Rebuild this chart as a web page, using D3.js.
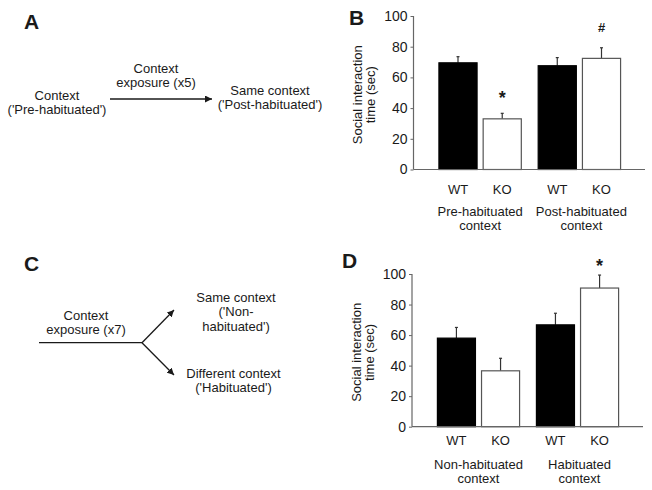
<!DOCTYPE html>
<html>
<head>
<meta charset="utf-8">
<script src="https://cdn.jsdelivr.net/npm/d3@7"></script>
<style>
  html, body { margin: 0; padding: 0; background: #fff; }
  svg { display: block; font-family: "Liberation Sans", Arial, sans-serif; }
</style>
</head>
<body>
<svg id="chart" width="652" height="490"></svg>
<script>
// ---- data ----
const genotypes = ["WT", "KO"];
const yTicks = [0, 20, 40, 60, 80, 100];

const groupsB = [["Pre-habituated", "context"], ["Post-habituated", "context"]];
const meansB = [69.5, 33.0, 67.6, 72.4];       // WT, KO, WT, KO
const semB   = [4.0, 3.6, 5.3, 6.9];
const marksB = ["", "*", "", "#"];

const groupsD = [["Non-habituated", "context"], ["Habituated", "context"]];
const meansD = [58.0, 36.6, 66.7, 90.8];
const semD   = [7.0, 8.2, 7.6, 8.5];
const marksD = ["", "", "", "*"];

const yTitle = ["Social interaction", "time (sec)"];

// ---- drawing ----
const svg = d3.select("#chart");
const ink = "#1a1a1a";
const axisGrey = "#666";

svg.append("defs").append("marker")
  .attr("id", "arrow").attr("viewBox", "0 0 10 10")
  .attr("refX", 10).attr("refY", 5)
  .attr("markerWidth", 7).attr("markerHeight", 7)
  .attr("markerUnits", "userSpaceOnUse")
  .attr("orient", "auto")
  .append("path").attr("d", "M0,0 L10,5 L0,10 Z").attr("fill", ink);

function panelLetter(x, y, t) {
  svg.append("text").attr("x", x).attr("y", y).text(t)
    .attr("font-size", 21).attr("font-weight", "bold").attr("fill", ink);
}
function lines(cx, baselines, texts) {
  texts.forEach((t, i) => {
    svg.append("text").attr("x", cx).attr("y", baselines[i]).text(t)
      .attr("text-anchor", "middle").attr("font-size", 13).attr("fill", ink);
  });
}

// Panel A
panelLetter(24, 29, "A");
lines(57, [100, 113.5], ["Context", "('Pre-habituated')"]);
lines(156, [73, 86.5], ["Context", "exposure (x5)"]);
lines(270, [95, 108.5], ["Same context", "('Post-habituated')"]);
svg.append("line").attr("x1", 110).attr("y1", 99).attr("x2", 212).attr("y2", 99)
  .attr("stroke", ink).attr("stroke-width", 1.3).attr("marker-end", "url(#arrow)");

// Panel C
panelLetter(24, 271, "C");
lines(86, [320, 333.5], ["Context", "exposure (x7)"]);
lines(236, [302, 316, 331], ["Same context", "('Non-", "habituated')"]);
lines(233.5, [378, 391.5], ["Different context", "('Habituated')"]);
svg.append("line").attr("x1", 39).attr("y1", 342.7).attr("x2", 142).attr("y2", 342.7)
  .attr("stroke", ink).attr("stroke-width", 1.3);
svg.append("line").attr("x1", 142).attr("y1", 342.7).attr("x2", 174).attr("y2", 310)
  .attr("stroke", ink).attr("stroke-width", 1.3).attr("marker-end", "url(#arrow)");
svg.append("line").attr("x1", 142).attr("y1", 342.7).attr("x2", 174).attr("y2", 375)
  .attr("stroke", ink).attr("stroke-width", 1.3).attr("marker-end", "url(#arrow)");

// Bar charts
function barPanel(opt) {
  const { letter, letterXY, axisX, axisRight, y0, y100, groups, means, sem, marks,
          catY, grpY, titleX, starGap, hashGap } = opt;
  const g = svg.append("g");
  const y = d3.scaleLinear().domain([0, 100]).range([y0, y100]);
  const gx = d3.scaleBand().domain(d3.range(groups.length))
    .range([axisX + 15, axisRight - 14]).paddingInner(0.16).paddingOuter(0.1);
  const ix = d3.scaleBand().domain(genotypes).range([0, gx.bandwidth()]).paddingInner(0.115);

  const data = [];
  groups.forEach((grp, gi) => genotypes.forEach((gt, k) => {
    const i = gi * genotypes.length + k;
    data.push({ gi, gt, mean: means[i], sem: sem[i], mark: marks[i] });
  }));
  const bx = d => gx(d.gi) + ix(d.gt);

  // error bars (upper only)
  g.selectAll(".err").data(data).join("g").each(function (d) {
    const cx = bx(d) + ix.bandwidth() / 2;
    const s = d3.select(this);
    s.append("line").attr("x1", cx).attr("x2", cx)
      .attr("y1", y(d.mean)).attr("y2", y(d.mean + d.sem))
      .attr("stroke", "#333").attr("stroke-width", 1.2);
    s.append("line").attr("x1", cx - 1.5).attr("x2", cx + 1.5)
      .attr("y1", y(d.mean + d.sem)).attr("y2", y(d.mean + d.sem))
      .attr("stroke", "#333").attr("stroke-width", 1.2);
  });

  // bars
  g.selectAll(".bar").data(data).join("rect")
    .attr("x", d => bx(d) + 0.5).attr("width", ix.bandwidth() - 1)
    .attr("y", d => y(d.mean)).attr("height", d => y(0) - y(d.mean))
    .attr("fill", d => d.gt === "WT" ? "#000" : "#fff")
    .attr("stroke", d => d.gt === "WT" ? "#000" : "#555")
    .attr("stroke-width", 1.2);

  // significance marks
  g.selectAll(".mark").data(data.filter(d => d.mark)).join("text")
    .attr("x", d => bx(d) + ix.bandwidth() / 2)
    .attr("y", d => y(d.mean + d.sem) - (d.mark === "*" ? starGap : hashGap))
    .attr("text-anchor", "middle")
    .attr("font-size", d => d.mark === "*" ? 18 : 13)
    .attr("font-weight", "bold").attr("fill", ink)
    .text(d => d.mark);

  // y axis
  const ay = g.append("g").attr("transform", `translate(${axisX},0)`)
    .call(d3.axisLeft(y).tickValues(yTicks).tickSize(3).tickPadding(3));
  ay.select(".domain").attr("stroke", axisGrey).attr("stroke-width", 1.2)
    .attr("d", `M0,${y0}V${y100}`);
  ay.selectAll(".tick line").attr("stroke", axisGrey);
  ay.selectAll(".tick text").attr("font-size", 14).attr("fill", ink)
    .attr("font-family", "Liberation Sans, Arial, sans-serif");

  // x baseline
  g.append("line").attr("x1", axisX).attr("x2", axisRight).attr("y1", y0).attr("y2", y0)
    .attr("stroke", axisGrey).attr("stroke-width", 1.2);

  // category labels
  g.selectAll(".cat").data(data).join("text")
    .attr("x", d => bx(d) + ix.bandwidth() / 2).attr("y", catY)
    .attr("text-anchor", "middle").attr("font-size", 13).attr("fill", ink)
    .text(d => d.gt);

  // group labels
  groups.forEach((grp, gi) => {
    grp.forEach((t, li) => {
      g.append("text").attr("x", gx(gi) + gx.bandwidth() / 2 + gi * 2).attr("y", grpY[li])
        .attr("text-anchor", "middle").attr("font-size", 13).attr("fill", ink).text(t);
    });
  });

  // y title
  const midY = (y0 + y100) / 2 + 2;
  yTitle.forEach((t, li) => {
    g.append("text")
      .attr("transform", `translate(${titleX[li]},${midY}) rotate(-90)`)
      .attr("text-anchor", "middle").attr("font-size", 13).attr("fill", ink).text(t);
  });

  panelLetter(letterXY[0], letterXY[1], letter);
}

barPanel({
  letter: "B", letterXY: [349, 25], axisX: 413.5, axisRight: 645,
  y0: 169.5, y100: 16, groups: groupsB, means: meansB, sem: semB, marks: marksB,
  catY: 193.5, grpY: [215.5, 229.5], titleX: [362, 375], starGap: 9, hashGap: 16
});
barPanel({
  letter: "D", letterXY: [342, 268], axisX: 412, axisRight: 643,
  y0: 426.7, y100: 274, groups: groupsD, means: meansD, sem: semD, marks: marksD,
  catY: 445, grpY: [469, 482.5], titleX: [361, 374], starGap: 3.5, hashGap: 16
});
</script>
</body>
</html>
